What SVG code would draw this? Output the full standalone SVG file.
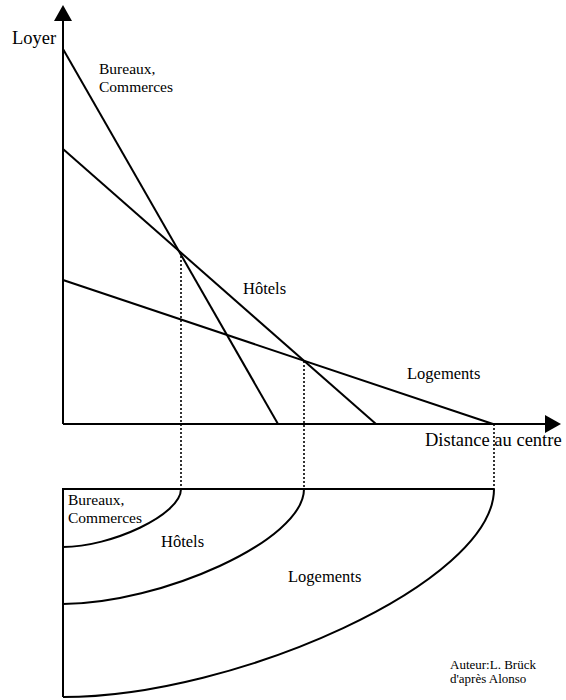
<svg xmlns="http://www.w3.org/2000/svg" width="566" height="700" viewBox="0 0 566 700">
<style>
.ln{fill:none;stroke:#000;stroke-width:2;stroke-linecap:butt}
.dot{fill:none;stroke:#000;stroke-width:1.6;stroke-dasharray:2,2}
.t{font-family:"Liberation Serif","Times New Roman",serif;fill:#000}
.s{font-size:16.5px}
.s2{font-size:15.5px}
.b{font-size:18.5px}
.a{font-size:13px}
</style>
<rect width="566" height="700" fill="#fff"/>
<g id="axes">
<line class="ln" x1="63" y1="20" x2="63" y2="424"/>
<polygon points="63,5 54,21 72,21" fill="#000"/>
<line class="ln" x1="63" y1="424" x2="546" y2="424"/>
<polygon points="561,424 545,415 545,433" fill="#000"/>
<text class="t b" x="12" y="44">Loyer</text>
<text class="t b" x="425" y="446">Distance au centre</text>
</g>
<g id="connectors">
<line class="dot" x1="181" y1="252" x2="181" y2="489"/>
<line class="dot" x1="304" y1="361" x2="304" y2="489"/>
<line class="dot" x1="494" y1="424" x2="494" y2="489"/>
</g>
<g id="courbe-bureaux">
<line class="ln" x1="63" y1="49" x2="278" y2="424"/>
<text class="t s2" x="99" y="74">Bureaux,</text>
<text class="t s2" x="99" y="92">Commerces</text>
</g>
<g id="courbe-hotels">
<line class="ln" x1="63" y1="149" x2="376" y2="424"/>
<text class="t s" x="243" y="294">Hôtels</text>
</g>
<g id="courbe-logements">
<line class="ln" x1="63" y1="280" x2="493" y2="424"/>
<text class="t s" x="407" y="379">Logements</text>
</g>
<g id="zones">
<path class="ln" d="M63,697 L63,489 L494,489"/>
<path class="ln" d="M181,489 C181,515 110.6,547 63,547"/>
<path class="ln" d="M304,489 C304,541 159.4,604 63,604"/>
<path class="ln" d="M494,489 C494,582.6 235.4,697 63,697"/>
</g>
<g id="zone-bureaux">
<text class="t s2" x="68" y="505">Bureaux,</text>
<text class="t s2" x="68" y="523">Commerces</text>
</g>
<g id="zone-hotels">
<text class="t s" x="161" y="547">Hôtels</text>
</g>
<g id="zone-logements">
<text class="t s" x="288" y="582">Logements</text>
</g>
<g id="auteur">
<text class="t a" x="450" y="669">Auteur:L. Brück</text>
<text class="t a" x="450" y="683">d'après Alonso</text>
</g>
</svg>
